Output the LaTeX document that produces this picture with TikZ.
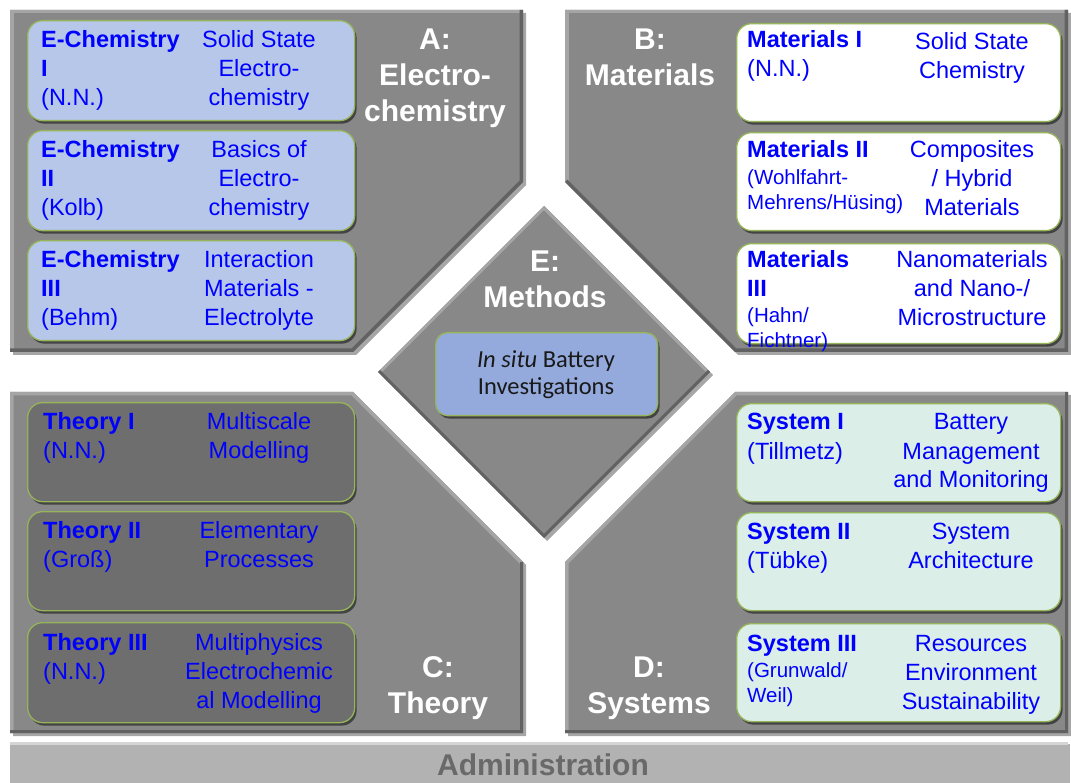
\documentclass[tikz,border=0pt]{standalone}
\usepackage{fontspec}
\setmainfont{Liberation Sans}
\newfontfamily\calib{Carlito}
\usetikzlibrary{shadows}
\definecolor{panel}{RGB}{136,136,136}
\definecolor{panelhi}{RGB}{165,165,165}
\definecolor{panello}{RGB}{98,98,98}
\definecolor{boxA}{RGB}{182,199,234}
\definecolor{boxB}{RGB}{255,255,255}
\definecolor{boxC}{RGB}{110,110,110}
\definecolor{boxD}{RGB}{219,238,232}
\definecolor{boxE}{RGB}{148,170,220}
\definecolor{bord}{RGB}{150,180,90}
\definecolor{tblue}{RGB}{0,0,255}
\definecolor{admfill}{RGB}{178,178,178}
\definecolor{admtext}{RGB}{105,105,105}
\newcommand\mkshade[1]{\pgfdeclareverticalshading{sh#1}{100bp}{color(0bp)=(#1!80!black); color(5bp)=(#1!93!black); color(12bp)=(#1); color(86bp)=(#1); color(94bp)=(#1!65!white); color(100bp)=(#1!90!black)}}
\mkshade{boxA}\mkshade{boxB}\mkshade{boxC}\mkshade{boxD}\mkshade{boxE}
\newcommand\lc[1]{\begin{tabular}[t]{@{}l@{}}#1\end{tabular}}
\newcommand\cc[1]{\begin{tabular}[t]{@{}c@{}}#1\end{tabular}}
\tikzset{
 panelfill/.style={fill=panel, drop shadow={shadow xshift=3pt, shadow yshift=-3pt, opacity=0.35, fill=black}},
 hiedge/.style={draw=panelhi, line width=7pt},
 loedge/.style={draw=panello, line width=7pt},
 rbox/.style={rounded corners=15pt, draw=bord, line width=1.3pt, inner sep=0pt, anchor=north west,
   drop shadow={shadow xshift=2pt, shadow yshift=-3pt, opacity=0.5, fill=black}},
 bsize/.style 2 args={minimum width=#1pt, minimum height=#2pt},
 boxa/.style={rbox, shade, shading=shboxA},
 boxb/.style={rbox, shade, shading=shboxB},
 boxc/.style={rbox, shade, shading=shboxC},
 boxd/.style={rbox, shade, shading=shboxD},
 boxe/.style={rbox, rounded corners=12pt, shade, shading=shboxE},
 txt/.style={inner sep=0pt, text=tblue, font=\fontsize{23.5}{29}\selectfont},
 lt/.style={txt, anchor=base west},
 rt/.style={txt, anchor=base},
 sm/.style={txt, anchor=base west, font=\fontsize{20.5}{25}\selectfont},
 head/.style={inner sep=0pt, anchor=base, text=white, font=\fontsize{30}{36}\selectfont\bfseries},
 admbar/.style={fill=admfill, inner sep=0pt, anchor=north west, minimum width=1058pt, minimum height=41pt,
   drop shadow={shadow xshift=2pt, shadow yshift=-2pt, opacity=0.3, fill=black}},
}
\begin{document}
\begin{tikzpicture}[x=1pt,y=-1pt]
\useasboundingbox (0,0) rectangle (1071,783);
\fill[white] (0,0) rectangle (1071,783);

% Panel A
\fill[panelfill] (10,10) -- (523,10) -- (523,182) -- (353,352) -- (10,352) -- cycle;
\begin{scope}
\clip (10,10) -- (523,10) -- (523,182) -- (353,352) -- (10,352) -- cycle;
\draw[hiedge] (10,352) -- (10,10) -- (523,10);
\draw[loedge] (523,10) -- (523,182) -- (353,352) -- (10,352);
\end{scope}
% Panel B
\fill[panelfill] (565,10) -- (1068,10) -- (1068,352) -- (735,352) -- (565,182) -- cycle;
\begin{scope}
\clip (565,10) -- (1068,10) -- (1068,352) -- (735,352) -- (565,182) -- cycle;
\draw[hiedge] (565,182) -- (565,10) -- (1068,10);
\draw[loedge] (1068,10) -- (1068,352) -- (735,352) -- (565,182);
\end{scope}
% Panel C
\fill[panelfill] (10,392) -- (353,392) -- (523,562) -- (523,733) -- (10,733) -- cycle;
\begin{scope}
\clip (10,392) -- (353,392) -- (523,562) -- (523,733) -- (10,733) -- cycle;
\draw[hiedge] (10,733) -- (10,392) -- (353,392) -- (523,562);
\draw[loedge] (523,562) -- (523,733) -- (10,733);
\end{scope}
% Panel D
\fill[panelfill] (735,392) -- (1068,392) -- (1068,733) -- (565,733) -- (565,562) -- cycle;
\begin{scope}
\clip (735,392) -- (1068,392) -- (1068,733) -- (565,733) -- (565,562) -- cycle;
\draw[hiedge] (565,733) -- (565,562) -- (735,392) -- (1068,392);
\draw[loedge] (1068,392) -- (1068,733) -- (565,733);
\end{scope}
% Diamond E
\fill[panelfill] (544,206) -- (710,372) -- (544,538) -- (378,372) -- cycle;
\begin{scope}
\clip (544,206) -- (710,372) -- (544,538) -- (378,372) -- cycle;
\draw[hiedge, line width=6pt] (378,372) -- (544,206) -- (710,372);
\draw[loedge, line width=6pt] (710,372) -- (544,538) -- (378,372);
\end{scope}
% Administration bar
\node[admbar] (adm) at (10,742) {};
\draw[admfill!55!white, line width=3pt] ([yshift=-1.5pt]adm.north west) -- ([yshift=-1.5pt]adm.north east);
\node[inner sep=0pt, anchor=base, text=admtext, font=\fontsize{30}{36}\selectfont\bfseries] (admt) at (543,775) {Administration};

% Boxes A
\node[boxa, bsize={327}{100}] (a1) at (27,20) {};
\node[boxa, bsize={327}{100}] (a2) at (27,130) {};
\node[boxa, bsize={327}{100}] (a3) at (27,240) {};
% Boxes B
\node[boxb, bsize={324}{98}] (b1) at (736,23) {};
\node[boxb, bsize={324}{98}] (b2) at (736,132) {};
\node[boxb, bsize={324}{100}] (b3) at (736,243) {};
% Boxes C
\node[boxc, bsize={327}{99}] (c1) at (27,402) {};
\node[boxc, bsize={327}{99}] (c2) at (27,511) {};
\node[boxc, bsize={327}{100}] (c3) at (27,622) {};
% Boxes D
\node[boxd, bsize={324}{98}] (d1) at (736,403) {};
\node[boxd, bsize={324}{98}] (d2) at (736,512) {};
\node[boxd, bsize={324}{98}] (d3) at (736,623) {};
% Box E
\node[boxe, bsize={222}{83}] (e1) at (435,332) {};

% Headings
\node[head] (hA) at (435,50) {\cc{A:\\Electro-\\chemistry}};
\node[head] (hB) at (650,50) {\cc{B:\\Materials}};
\node[head] (hC) at (438,677) {\cc{C:\\Theory}};
\node[head] (hD) at (649,677) {\cc{D:\\Systems}};
\node[head] (hE) at (545,272) {\cc{E:\\Methods}};
\node[inner sep=0pt, anchor=base, text=black!90, font=\calib\fontsize{24.5}{27}\selectfont] (tE) at (546,368) {\cc{{\itshape In situ} Battery\\Investigations}};

% Texts A
\node[lt] (ta1) at (41,48) {\lc{\bfseries E-Chemistry\\\bfseries I\\(N.N.)}};
\node[rt] (ra1) at (259,48) {\cc{Solid State\\Electro-\\chemistry}};
\node[lt] (ta2) at (41,158) {\lc{\bfseries E-Chemistry\\\bfseries II\\(Kolb)}};
\node[rt] (ra2) at (259,158) {\cc{Basics of\\Electro-\\chemistry}};
\node[lt] (ta3) at (41,268) {\lc{\bfseries E-Chemistry\\\bfseries III\\(Behm)}};
\node[rt] (ra3) at (259,268) {\cc{Interaction\\Materials -\\Electrolyte}};
% Texts B
\node[lt] (tb1) at (747,48) {\lc{\bfseries Materials I\\(N.N.)}};
\node[rt] (rb1) at (972,50) {\cc{Solid State\\Chemistry}};
\node[lt] (tb2) at (747,158) {\lc{\bfseries Materials II}};
\node[sm] (sb2) at (747,185) {\lc{(Wohlfahrt-\\Mehrens/Hüsing)}};
\node[rt] (rb2) at (972,158) {\cc{Composites\\/ Hybrid\\Materials}};
\node[lt] (tb3) at (747,268) {\lc{\bfseries Materials\\\bfseries III}};
\node[sm] (sb3) at (747,323) {\lc{(Hahn/\\Fichtner)}};
\node[rt] (rb3) at (972,268) {\cc{Nanomaterials\\and Nano-/\\Microstructure}};
% Texts C
\node[lt] (tc1) at (43,429) {\lc{\bfseries Theory I\\(N.N.)}};
\node[rt] (rc1) at (259,429) {\cc{Multiscale\\Modelling}};
\node[lt] (tc2) at (43,538) {\lc{\bfseries Theory II\\(Groß)}};
\node[rt] (rc2) at (259,538) {\cc{Elementary\\Processes}};
\node[lt] (tc3) at (43,650) {\lc{\bfseries Theory III\\(N.N.)}};
\node[rt] (rc3) at (259,650) {\cc{Multiphysics\\Electrochemic\\al Modelling}};
% Texts D
\node[lt] (td1) at (747,430) {\lc{\bfseries System I\\(Tillmetz)}};
\node[rt] (rd1) at (971,430) {\cc{Battery\\Management\\and Monitoring}};
\node[lt] (td2) at (747,539) {\lc{\bfseries System II\\(Tübke)}};
\node[rt] (rd2) at (971,539) {\cc{System\\Architecture}};
\node[lt] (td3) at (747,651) {\lc{\bfseries System III}};
\node[sm] (sd3) at (747,677) {\lc{(Grunwald/\\Weil)}};
\node[rt] (rd3) at (971,651) {\cc{Resources\\Environment\\Sustainability}};
\end{tikzpicture}
\end{document}
